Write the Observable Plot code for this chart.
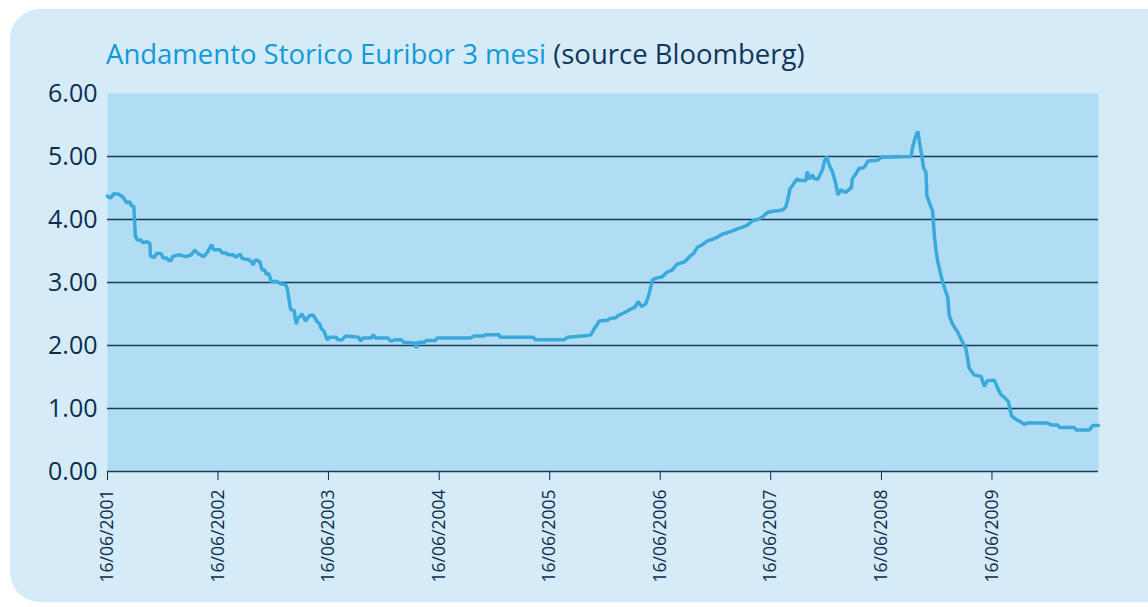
<!DOCTYPE html>
<html><head><meta charset="utf-8">
<script src="https://cdn.jsdelivr.net/npm/d3@7"></script>
<script src="https://cdn.jsdelivr.net/npm/@observablehq/plot@0.6"></script>
<style>
html,body{margin:0;padding:0;background:#fff;}
#wrap{position:relative;width:1148px;height:607px;overflow:hidden;font-family:"Open Sans",sans-serif;}
#panel{position:absolute;left:10px;top:9px;width:1200px;height:593px;background:#d5ebf8;border-radius:30px;}
#title{position:absolute;left:106px;top:40px;font-size:27.5px;line-height:28px;white-space:nowrap;color:#12355a;font-weight:500;}
#title .main{color:#129ad8;}
#chart{position:absolute;left:0;top:0;}
</style></head>
<body>
<div id="wrap">
  <div id="panel"></div>
  <div id="title"><span class="main">Andamento Storico Euribor 3 mesi</span> (source Bloomberg)</div>
  <div id="chart"></div>
</div>
<script>
const dates = [
"2001-06-16","2001-06-26","2001-07-07","2001-07-23","2001-08-07","2001-08-18","2001-08-29","2001-09-02","2001-09-11","2001-09-16",
"2001-09-22","2001-10-05","2001-10-12","2001-10-23","2001-11-03","2001-11-05","2001-11-18","2001-11-25","2001-12-10","2001-12-17",
"2001-12-28","2002-01-04","2002-01-13","2002-01-16","2002-02-07","2002-03-01","2002-03-20","2002-03-31","2002-04-14","2002-04-30",
"2002-05-12","2002-05-26","2002-06-02","2002-06-22","2002-06-30","2002-07-14","2002-07-18","2002-08-07","2002-08-13","2002-08-29",
"2002-09-04","2002-09-26","2002-10-04","2002-10-10","2002-10-18","2002-11-01","2002-11-09","2002-11-17","2002-11-23","2002-12-01",
"2002-12-09","2002-12-26","2003-01-09","2003-01-25","2003-01-31","2003-02-02","2003-02-11","2003-02-22","2003-03-02","2003-03-07",
"2003-03-21","2003-04-01","2003-04-15","2003-04-27","2003-05-08","2003-05-18","2003-05-23","2003-06-01","2003-06-12","2003-06-20",
"2003-07-12","2003-07-17","2003-07-31","2003-08-11","2003-09-24","2003-09-30","2003-10-09","2003-11-04","2003-11-11","2003-11-18",
"2003-12-29","2004-01-07","2004-01-23","2004-02-11","2004-02-20","2004-03-27","2004-04-01","2004-04-06","2004-04-28","2004-05-04",
"2004-06-04","2004-06-09","2004-09-28","2004-10-09","2004-11-09","2004-11-17","2004-12-31","2005-01-03","2005-04-22","2005-04-30",
"2005-08-02","2005-08-14","2005-10-19","2005-10-30","2005-11-09","2005-11-21","2005-11-26","2005-12-24","2006-01-01","2006-01-20",
"2006-01-26","2006-02-17","2006-03-11","2006-03-25","2006-04-04","2006-04-15","2006-04-29","2006-05-10","2006-05-21","2006-06-03",
"2006-06-23","2006-07-07","2006-07-26","2006-08-10","2006-08-23","2006-09-05","2006-09-23","2006-10-04","2006-10-17","2006-11-02",
"2006-11-19","2006-12-09","2006-12-22","2007-01-08","2007-01-24","2007-02-10","2007-02-26","2007-03-15","2007-03-31","2007-04-17",
"2007-05-03","2007-05-20","2007-06-05","2007-06-22","2007-07-08","2007-07-25","2007-08-05","2007-08-12","2007-08-19","2007-08-27",
"2007-09-10","2007-09-23","2007-10-10","2007-10-15","2007-10-21","2007-11-01","2007-11-06","2007-11-19","2007-12-04","2007-12-09",
"2007-12-18","2007-12-26","2008-01-06","2008-01-17","2008-01-24","2008-02-02","2008-02-19","2008-03-09","2008-03-12","2008-03-23",
"2008-04-03","2008-04-19","2008-05-03","2008-06-03","2008-06-16","2008-09-22","2008-09-27","2008-10-05","2008-10-14","2008-10-19",
"2008-10-27","2008-11-02","2008-11-10","2008-11-13","2008-11-21","2008-12-02","2008-12-08","2008-12-13","2008-12-19","2008-12-30",
"2009-01-10","2009-01-21","2009-01-26","2009-02-06","2009-02-23","2009-03-06","2009-03-22","2009-04-02","2009-04-19","2009-05-11",
"2009-05-22","2009-05-31","2009-06-24","2009-07-05","2009-07-16","2009-07-29","2009-08-09","2009-08-20","2009-09-03","2009-09-18",
"2009-10-01","2009-10-12","2009-12-17","2009-12-28","2010-01-19","2010-01-24","2010-03-15","2010-03-21","2010-05-04","2010-05-15",
"2010-06-03"
];
const values = [
4.37,4.34,4.41,4.40,4.35,4.27,4.28,4.22,4.21,3.74,
3.68,3.67,3.63,3.65,3.62,3.42,3.40,3.46,3.46,3.39,
3.39,3.35,3.35,3.41,3.44,3.41,3.44,3.51,3.45,3.41,
3.48,3.60,3.52,3.52,3.47,3.47,3.44,3.44,3.40,3.45,
3.38,3.36,3.33,3.28,3.36,3.33,3.20,3.20,3.13,3.14,
3.01,3.02,2.98,2.97,2.90,2.84,2.57,2.56,2.34,2.43,
2.50,2.39,2.48,2.48,2.39,2.34,2.27,2.23,2.09,2.13,
2.13,2.09,2.09,2.15,2.13,2.07,2.12,2.12,2.17,2.12,
2.12,2.07,2.09,2.09,2.05,2.04,1.96,2.05,2.05,2.08,
2.08,2.12,2.12,2.15,2.15,2.17,2.17,2.13,2.13,2.09,
2.09,2.13,2.16,2.17,2.26,2.34,2.39,2.40,2.43,2.44,
2.47,2.52,2.58,2.61,2.70,2.62,2.66,2.81,3.04,3.07,
3.09,3.16,3.20,3.29,3.31,3.33,3.42,3.46,3.56,3.60,
3.66,3.69,3.72,3.77,3.79,3.82,3.85,3.88,3.91,3.98,
4.00,4.04,4.11,4.13,4.14,4.15,4.20,4.33,4.49,4.54,
4.64,4.62,4.62,4.76,4.64,4.71,4.65,4.64,4.79,4.90,
5.00,4.87,4.76,4.57,4.39,4.47,4.43,4.51,4.65,4.72,
4.81,4.82,4.93,4.94,4.99,5.00,5.15,5.29,5.40,5.25,
5.02,4.82,4.75,4.38,4.27,4.13,3.73,3.52,3.33,3.10,
2.92,2.76,2.47,2.34,2.21,2.10,1.95,1.64,1.53,1.51,
1.35,1.44,1.45,1.32,1.22,1.17,1.11,0.88,0.83,0.79,
0.75,0.77,0.77,0.74,0.74,0.70,0.70,0.66,0.66,0.73,
0.73
];
const xTickDates = ["2001-06-16","2002-06-16","2003-06-16","2004-06-16","2005-06-16","2006-06-16","2007-06-16","2008-06-16","2009-06-16"];
const xTickLabels = ["16/06/2001","16/06/2002","16/06/2003","16/06/2004","16/06/2005","16/06/2006","16/06/2007","16/06/2008","16/06/2009"];
const yTicks = [0,1,2,3,4,5,6];
const yTickLabels = ["0.00","1.00","2.00","3.00","4.00","5.00","6.00"];
const gridValues = [1,2,3,4,5];
const xDomain = ["2001-06-16","2010-06-03"];

const data = dates.map((d,i)=>({date:new Date(d), value:values[i]}));
const xTicks = xTickDates.map(d=>new Date(d));

const chart = Plot.plot({
  width:1148, height:607,
  marginLeft:107, marginRight:50, marginTop:93, marginBottom:136,
  style:{background:"transparent", fontFamily:"'Open Sans', sans-serif", overflow:"visible"},
  x:{type:"utc", domain:xDomain.map(d=>new Date(d))},
  y:{domain:[0,6]},
  marks:[
    Plot.frame({fill:"#b0ddf3", stroke:null}),
    Plot.ruleY(gridValues,{stroke:"#1b3b5a", strokeWidth:1.3}),
    Plot.ruleY([0],{stroke:"#1b3b5a", strokeWidth:1.6}),
    Plot.axisY({ticks:yTicks, tickFormat:d=>yTickLabels[yTicks.indexOf(d)], tickSize:0, tickPadding:10, fontSize:25, label:null, color:"#0b2d4d"}),
    Plot.axisX({ticks:xTicks, tickFormat:d=>xTickLabels[xTicks.findIndex(t=>+t===+d)], tickRotate:-90, tickSize:9, tickPadding:9, fontSize:17.5, label:null, color:"#0b2d4d"}),
    Plot.line(data,{x:"date", y:"value", stroke:"#3aa9dc", strokeWidth:3.5, strokeLinejoin:"miter"})
  ]
});
document.getElementById("chart").appendChild(chart);
</script>
</body></html>
